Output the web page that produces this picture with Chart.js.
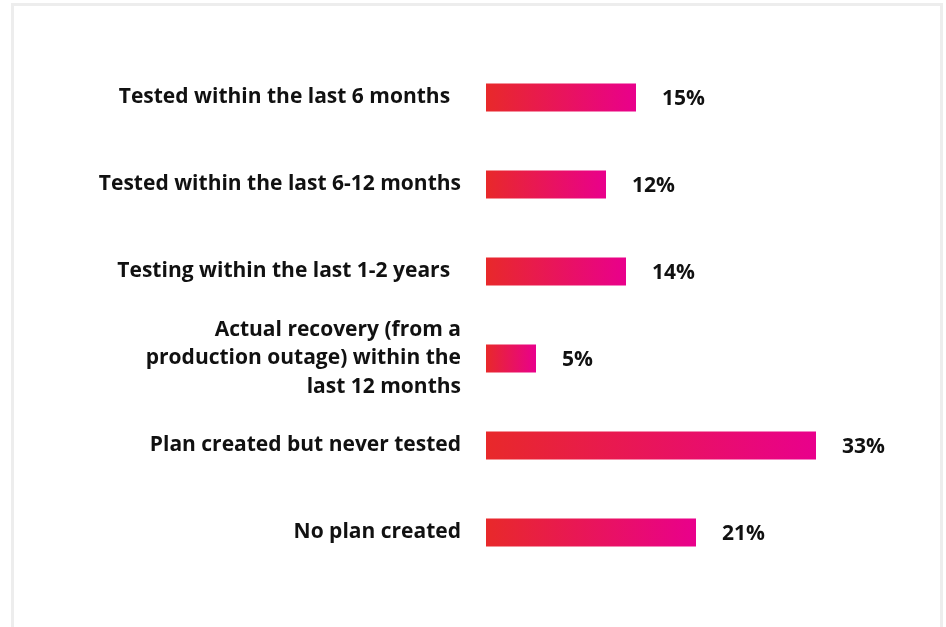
<!DOCTYPE html>
<html>
<head>
<meta charset="utf-8">
<script src="https://cdn.jsdelivr.net/npm/chart.js@4.4.1/dist/chart.umd.min.js"></script>
<style>
  html, body { margin: 0; padding: 0; background: #ffffff; }
  #wrap { position: relative; width: 946px; height: 627px; overflow: hidden; }
  #frame { position: absolute; left: 11px; top: 3px; width: 926px; height: 700px; border: 3px solid #ededed; box-sizing: content-box; }
  #c { position: absolute; left: 0; top: 0; }
</style>
</head>
<body>
<div id="wrap">
  <div id="frame"></div>
  <canvas id="c" width="946" height="627"></canvas>
</div>
<script>
const categories = [
  'Tested within the last 6 months  ',
  'Tested within the last 6-12 months',
  'Testing within the last 1-2 years  ',
  ['Actual recovery (from a', 'production outage) within the', 'last 12 months'],
  'Plan created but never tested',
  'No plan created'
];
const values = [15, 12, 14, 5, 33, 21];
const valueLabels = ['15%', '12%', '14%', '5%', '33%', '21%'];

const FONT = "'Open Sans', 'Noto Sans', sans-serif";
const COLOR_START = '#e8292a';
const COLOR_END = '#e9008c';

function barGradient(ctx) {
  const chart = ctx.chart;
  const xs = chart.scales && chart.scales.x;
  if (!chart.chartArea || !xs || ctx.dataIndex === undefined) return COLOR_START;
  const v = ctx.dataset.data[ctx.dataIndex];
  const x0 = xs.getPixelForValue(0);
  const x1 = xs.getPixelForValue(v);
  if (!isFinite(x0) || !isFinite(x1) || x1 <= x0) return COLOR_START;
  const g = chart.ctx.createLinearGradient(x0, 0, x1, 0);
  g.addColorStop(0, COLOR_START);
  g.addColorStop(1, COLOR_END);
  return g;
}

const valueLabelPlugin = {
  id: 'valueLabels',
  afterDatasetsDraw(chart) {
    const meta = chart.getDatasetMeta(0);
    const c = chart.ctx;
    c.save();
    c.font = "bold 21px " + FONT;
    c.fillStyle = '#111111';
    c.textAlign = 'left';
    c.textBaseline = 'middle';
    meta.data.forEach((bar, i) => {
      c.fillText(valueLabels[i], bar.x + 26, bar.y + 2);
    });
    c.restore();
  }
};

new Chart(document.getElementById('c'), {
  type: 'bar',
  data: {
    labels: categories,
    datasets: [{
      data: values,
      backgroundColor: barGradient,
      borderWidth: 0,
      barPercentage: 0.32,
      categoryPercentage: 1.0
    }]
  },
  options: {
    indexAxis: 'y',
    responsive: false,
    animation: false,
    devicePixelRatio: 1,
    layout: { padding: { left: 0, right: 10, top: 54, bottom: 51 } },
    plugins: { legend: { display: false }, tooltip: { enabled: false } },
    scales: {
      x: { display: false, min: 0, max: 45 },
      y: {
        grid: { display: false, drawTicks: false },
        border: { display: false },
        ticks: {
          autoSkip: false,
          color: '#111111',
          padding: 25,
          font: { family: FONT, size: 21, weight: 'bold', lineHeight: 1.38 }
        },
        afterFit(scale) { scale.width = 486; }
      }
    }
  },
  plugins: [valueLabelPlugin]
});
</script>
</body>
</html>
